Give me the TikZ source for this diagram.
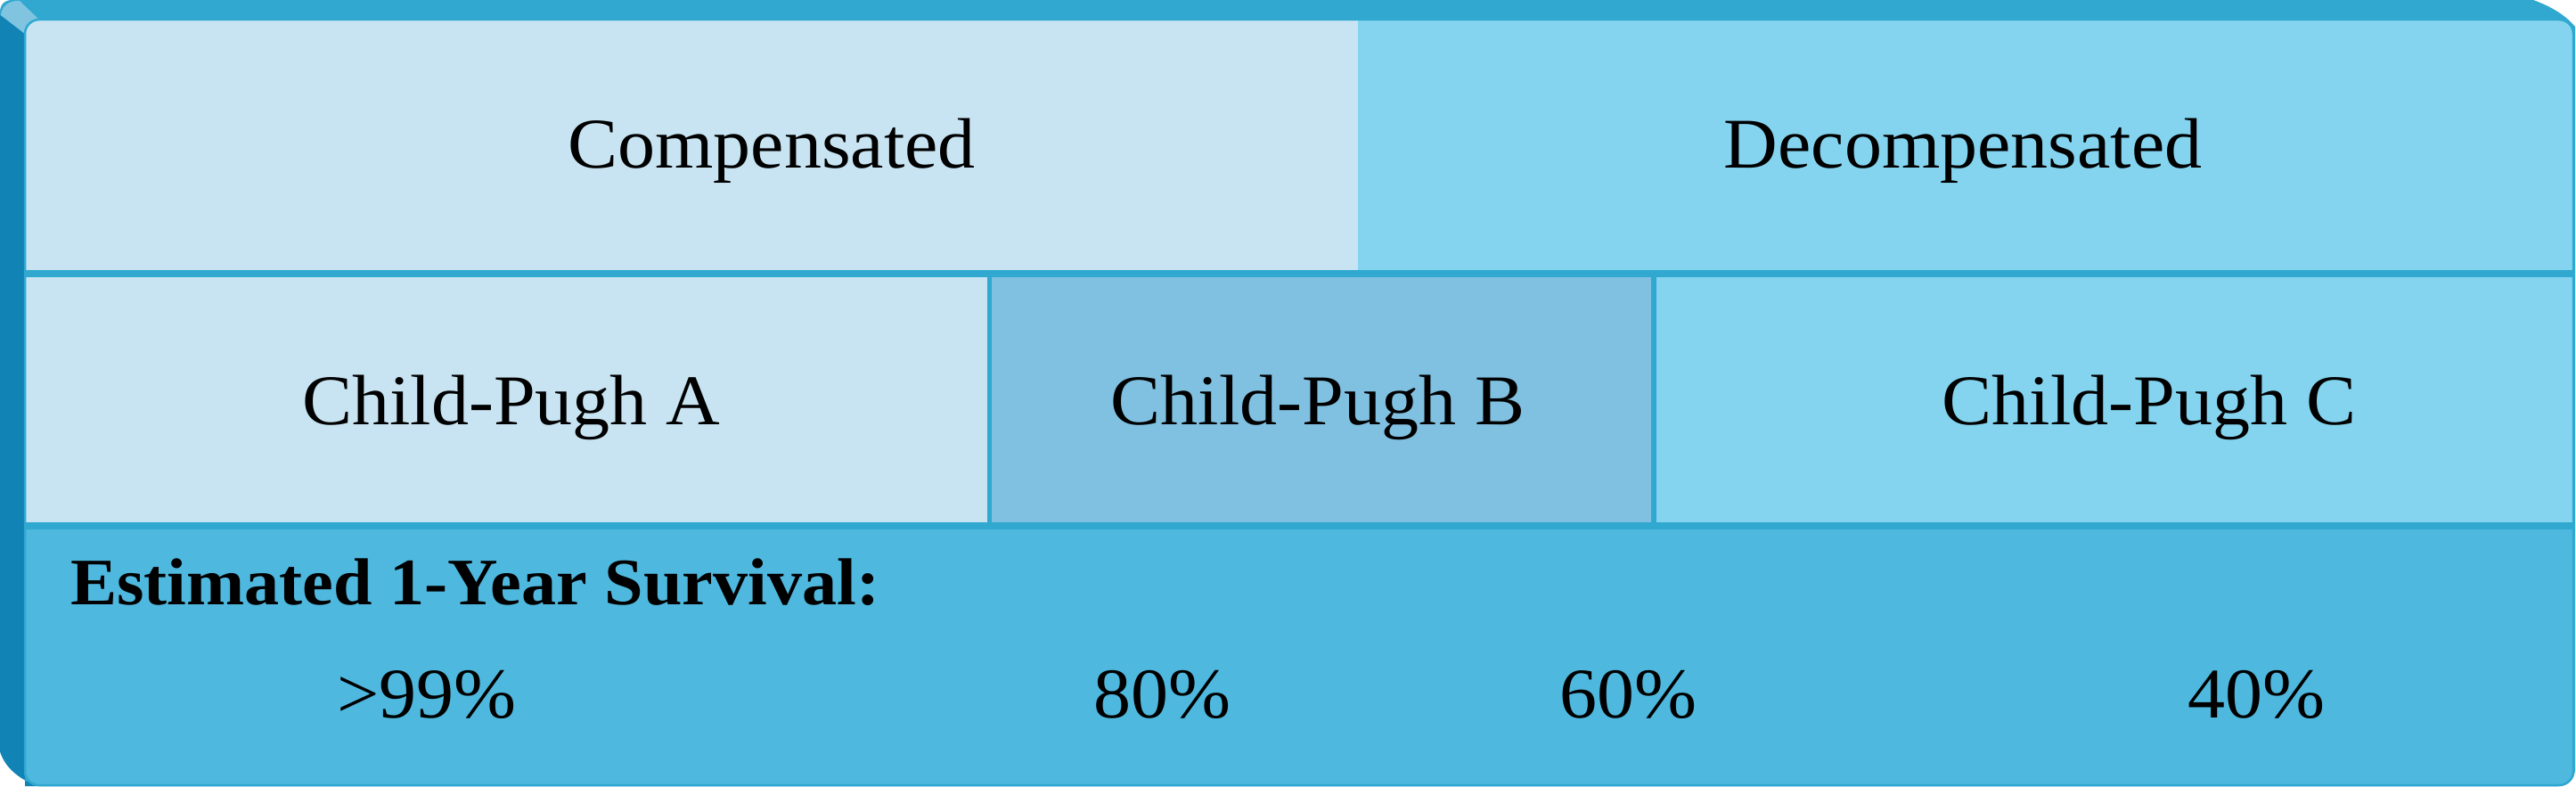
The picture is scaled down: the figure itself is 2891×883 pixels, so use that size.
\documentclass[tikz,border=0pt]{standalone}
\usepackage{fontspec}
\setmainfont[FakeStretch=1.05]{Liberation Serif}
\begin{document}
\begin{tikzpicture}[x=1pt,y=-1pt,
  lbl/.style={anchor=base,inner sep=0pt,font=\fontsize{80}{96}\selectfont},
  hdr/.style={anchor=base west,inner sep=0pt,font=\fontsize{74.5}{90}\selectfont\bfseries}]
\definecolor{band}{HTML}{30A8D0}
\definecolor{side}{HTML}{1283B5}
\definecolor{bevel}{HTML}{80C4E0}
\definecolor{light}{HTML}{C8E4F2}
\definecolor{mid}{HTML}{84D4EF}
\definecolor{cpb}{HTML}{80C0E0}
\definecolor{low}{HTML}{4FB8DE}
\definecolor{sep}{HTML}{30A8D0}
\useasboundingbox (0,0) rectangle (2891,883);
% outer body
\fill[band] (0,14) .. controls (0,5) and (5,0) .. (14,0) -- (2843,0)
  .. controls (2865,8) and (2880,18) .. (2890,30) -- (2890,862)
  .. controls (2890,875) and (2882,882) .. (2870,882) -- (42,882)
  .. controls (22,874) and (6,862) .. (0,843) -- cycle;
% left side band
\fill[side] (0,17) -- (28,38) -- (28,882) -- (42,882)
  .. controls (22,874) and (6,862) .. (0,843) -- cycle;
% bevel
\fill[bevel] (1,17) .. controls (2,8) and (8,2) .. (18,1) -- (22,1) -- (44,22) -- (28,38) -- cycle;
% face
\begin{scope}
\clip[rounded corners=16pt] (28,22) rectangle (2888,881);
\fill[light] (28,22) rectangle (1524,303);
\fill[mid] (1524,22) rectangle (2888,303);
\fill[light] (28,311) rectangle (1108,586);
\fill[cpb] (1113,311) rectangle (1853,586);
\fill[mid] (1859,311) rectangle (2888,586);
\fill[low] (28,594) rectangle (2888,881);
\fill[sep] (28,303) rectangle (2888,311);
\fill[sep] (28,586) rectangle (2888,594);
\fill[sep] (1108,311) rectangle (1113,586);
\fill[sep] (1853,311) rectangle (1859,586);
\end{scope}
\draw[sep,line width=2.5pt,rounded corners=16pt] (28,22) rectangle (2888,881);
% texts
\node[lbl] (comp) at (866,188) {Compensated};
\node[lbl] (decomp) at (2203,188) {Decompensated};
\node[lbl] (cpa) at (574,476) {Child-Pugh A};
\node[lbl] (cpbn) at (1479,476) {Child-Pugh B};
\node[lbl] (cpc) at (2412,476) {Child-Pugh C};
\node[hdr] (est) at (79,678) {Estimated 1-Year Survival:};
\node[lbl] (s99) at (479,805) {>99\%};
\node[lbl] (s80) at (1304,805) {80\%};
\node[lbl] (s60) at (1827,805) {60\%};
\node[lbl] (s40) at (2532,805) {40\%};
\end{tikzpicture}
\end{document}
